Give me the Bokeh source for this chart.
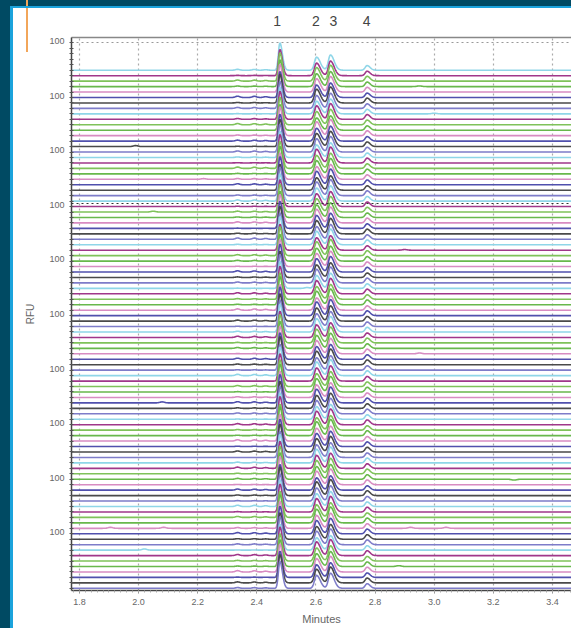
import numpy as np
from bokeh.plotting import figure
from bokeh.models import FixedTicker, LinearAxis, Range1d, Grid
from bokeh.layouts import column
from bokeh.embed import file_html
from bokeh.resources import INLINE

# ---------------- data ----------------
n_traces = 96
offset_step = 10          # RFU offset between stacked traces
peak_times = [2.478, 2.602, 2.649, 2.773]
peak_label_times = [2.469, 2.600, 2.659, 2.771]
peak_labels = ["1", "2", "3", "4"]
peak_heights = [50, 24, 28, 8.5]
peak_sig_left = [0.0050, 0.0070, 0.0070, 0.0065]
peak_sig_right = [0.0085, 0.0125, 0.0125, 0.0100]
minor_peak_times = [2.335, 2.392, 2.43]
minor_peak_heights = [2.0, 1.8, 1.2]

trace_scale = [
    1.00, 0.96, 1.04, 0.98, 1.02, 0.95, 1.05, 0.99, 0.97, 1.03,
    1.01, 0.94, 1.06, 0.98, 1.00, 1.02, 0.96, 1.04, 0.99, 1.01,
    0.97, 1.03, 0.95, 1.05, 1.00, 0.98, 1.02, 0.96, 1.04, 0.99,
    1.01, 0.97, 1.03, 0.95, 1.06, 0.98, 1.00, 1.02, 0.96, 1.04,
    0.99, 1.01, 0.97, 1.03, 0.94, 1.05, 1.00, 0.98, 1.02, 0.96,
    1.04, 0.99, 1.01, 0.97, 1.03, 0.95, 1.05, 1.00, 0.98, 1.02,
    0.96, 1.04, 0.99, 1.01, 0.97, 1.03, 0.95, 1.06, 0.98, 1.00,
    1.02, 0.96, 1.04, 0.99, 1.01, 0.97, 1.03, 0.94, 1.05, 1.00,
    0.98, 1.02, 0.96, 1.04, 0.99, 1.01, 0.97, 1.03, 0.95, 1.05,
    1.00, 0.98, 1.02, 0.96, 1.04, 0.99,
]
minor_scale = [
    0.8, 0.3, 1.0, 0.5, 0.0, 1.2, 0.4, 0.9, 0.2, 0.7,
    1.1, 0.0, 0.6, 0.9, 0.3, 1.0, 0.5, 0.2, 1.2, 0.4,
    0.7, 0.9, 0.0, 0.6, 1.1, 0.3, 0.8, 0.5, 1.0, 0.2,
    0.6, 1.2, 0.4, 0.0, 0.9, 0.7, 0.3, 1.1, 0.5, 0.8,
    0.2, 1.0, 0.6, 0.4, 1.2, 0.0, 0.9, 0.3, 0.7, 1.1,
    0.5, 0.8, 0.2, 1.0, 0.6, 0.4, 1.2, 0.0, 0.9, 0.3,
    0.7, 1.1, 0.5, 0.8, 0.2, 1.0, 0.6, 0.4, 1.2, 0.3,
    0.9, 0.0, 0.7, 1.1, 0.5, 0.8, 0.2, 1.0, 0.6, 0.4,
    1.2, 0.3, 0.9, 0.0, 0.7, 1.1, 0.5, 0.8, 0.2, 1.0,
    0.6, 0.4, 1.2, 0.3, 0.9, 0.7,
]

extra_bump_trace = [14, 26, 40, 52, 61, 75, 84, 84, 84, 84, 88, 3, 8, 91, 20, 33]
extra_bump_time = [1.99, 2.05, 2.57, 2.95, 2.08, 3.27, 1.905, 2.085, 2.92, 3.04, 2.02, 2.95, 3.0, 2.88, 2.22, 2.9]
extra_bump_height = [1.8, 1.5, 1.5, 1.5, 1.8, -1.5, 1.8, 1.8, 1.8, 1.8, 2.2, 1.2, 1.2, 1.5, 1.2, 1.2]

trace_colors = ["#8fd6e8", "#a0378a", "#7fc25a", "#68b84c",
                "#d88cc2", "#5050ad", "#4a4a4a", "#7e7cc9"]

x_ticks = [1.8, 2.0, 2.2, 2.4, 2.6, 2.8, 3.0, 3.2, 3.4]
x_tick_labels = ["1.8", "2.0", "2.2", "2.4", "2.6", "2.8", "3.0", "3.2", "3.4"]
y_label_vals = [1003, 903, 803, 703, 603, 503, 403, 303, 203, 103]
y_label_text = "100"
dark_grid_rfu = [705]

# ---------------- figure ----------------
FONT = "Liberation Sans"
p = figure(width=558, height=620, output_backend="svg", toolbar_location=None,
           x_range=Range1d(1.7733, 3.4642), y_range=Range1d(-4, 1010),
           min_border_left=58, min_border_top=29, min_border_bottom=38,
           min_border_right=0)
p.outline_line_color = None
p.background_fill_color = "white"
p.border_fill_color = None

t = np.arange(1.77, 3.47, 0.0015)
for i in range(n_traces):
    base = (n_traces - 1 - i) * offset_step
    s = trace_scale[i]
    y = np.full_like(t, float(base))
    for pt, ph, sl, sr in zip(peak_times, peak_heights, peak_sig_left, peak_sig_right):
        sig = np.where(t < pt, sl, sr)
        y += ph * s * np.exp(-0.5 * ((t - pt) / sig) ** 2)
    for mt, mh in zip(minor_peak_times, minor_peak_heights):
        y += mh * minor_scale[i] * np.exp(-0.5 * ((t - mt) / 0.007) ** 2)
    for bt, btime, bh in zip(extra_bump_trace, extra_bump_time, extra_bump_height):
        if bt == i:
            y += bh * np.exp(-0.5 * ((t - btime) / 0.008) ** 2)
    p.line(t, y, line_color=trace_colors[i % len(trace_colors)], line_width=1.6)

# grid
p.xgrid.ticker = FixedTicker(ticks=x_ticks)
p.xgrid.grid_line_color = "#aaaaaa"
p.xgrid.grid_line_dash = "2 3"
p.xgrid.grid_line_width = 1.2
p.ygrid.ticker = FixedTicker(ticks=[1000])
p.ygrid.grid_line_color = "#999999"
p.ygrid.grid_line_dash = "2 3"
p.ygrid.grid_line_width = 1.2
dark = Grid(dimension=1, ticker=FixedTicker(ticks=dark_grid_rfu), level="overlay",
            grid_line_color="#333333", grid_line_dash="2 3", grid_line_width=1.2)
p.add_layout(dark)

# x axis
xa = p.xaxis[0]
xa.ticker = FixedTicker(ticks=x_ticks, minor_ticks=list(np.round(np.arange(1.78, 3.47, 0.02), 2)))
xa.major_label_overrides = {v: lb for v, lb in zip(x_ticks, x_tick_labels)}
xa.axis_label = "Minutes"
xa.axis_line_color = "#444444"
xa.axis_line_width = 1.5
xa.major_tick_line_color = "#888888"
xa.minor_tick_line_color = "#aaaaaa"
xa.major_tick_in = 0
xa.major_tick_out = 3
xa.minor_tick_in = 0
xa.minor_tick_out = 2
xa.major_label_standoff = 5
xa.major_label_text_font = FONT
xa.major_label_text_font_size = "9px"
xa.major_label_text_color = "#666666"
xa.axis_label_text_font = FONT
xa.axis_label_text_font_size = "11px"
xa.axis_label_text_font_style = "normal"
xa.axis_label_text_color = "#666666"
xa.axis_label_standoff = 5

# y axis
ya = p.yaxis[0]
ya.ticker = FixedTicker(ticks=y_label_vals, minor_ticks=list(range(0, 1010, offset_step)))
ya.major_label_overrides = {v: y_label_text for v in y_label_vals}
ya.axis_label = "RFU"
ya.axis_line_color = "#444444"
ya.axis_line_width = 1.5
ya.major_tick_line_color = None
ya.minor_tick_line_color = "#555555"
ya.major_tick_in = 0
ya.major_tick_out = 2
ya.minor_tick_in = 2
ya.minor_tick_out = 2
ya.major_label_standoff = 5
ya.major_label_text_font = FONT
ya.major_label_text_font_size = "9px"
ya.major_label_text_color = "#666666"
ya.axis_label_text_font = FONT
ya.axis_label_text_font_size = "10px"
ya.axis_label_text_font_style = "normal"
ya.axis_label_text_color = "#666666"
ya.axis_label_standoff = 10

# peak number labels on top
top = LinearAxis(ticker=FixedTicker(ticks=peak_label_times),
                 major_label_overrides={pt: lb for pt, lb in zip(peak_label_times, peak_labels)})
top.axis_line_color = "#888888"
top.axis_line_width = 1.5
top.major_tick_line_color = None
top.minor_tick_line_color = None
top.major_label_standoff = 6
top.major_label_text_font = FONT
top.major_label_text_font_size = "14px"
top.major_label_text_color = "#444444"
p.add_layout(top, "above")

inner = column(p, styles={
    "background": "linear-gradient(#f2a65a,#f2a65a) 13px 0/2px 44px no-repeat, #ffffff",
    "border-left": "3px solid #1ba3dc",
    "border-top": "2px solid #1ba3dc",
})
outer = column(inner, styles={
    "background": "linear-gradient(#f2a65a,#f2a65a) 26px 0/2px 8px no-repeat, #004a63",
    "padding": "6px 0 0 10px",
    "width": "571px", "height": "628px", "box-sizing": "border-box",
})

open("out.html", "w").write(file_html(outer, INLINE))
